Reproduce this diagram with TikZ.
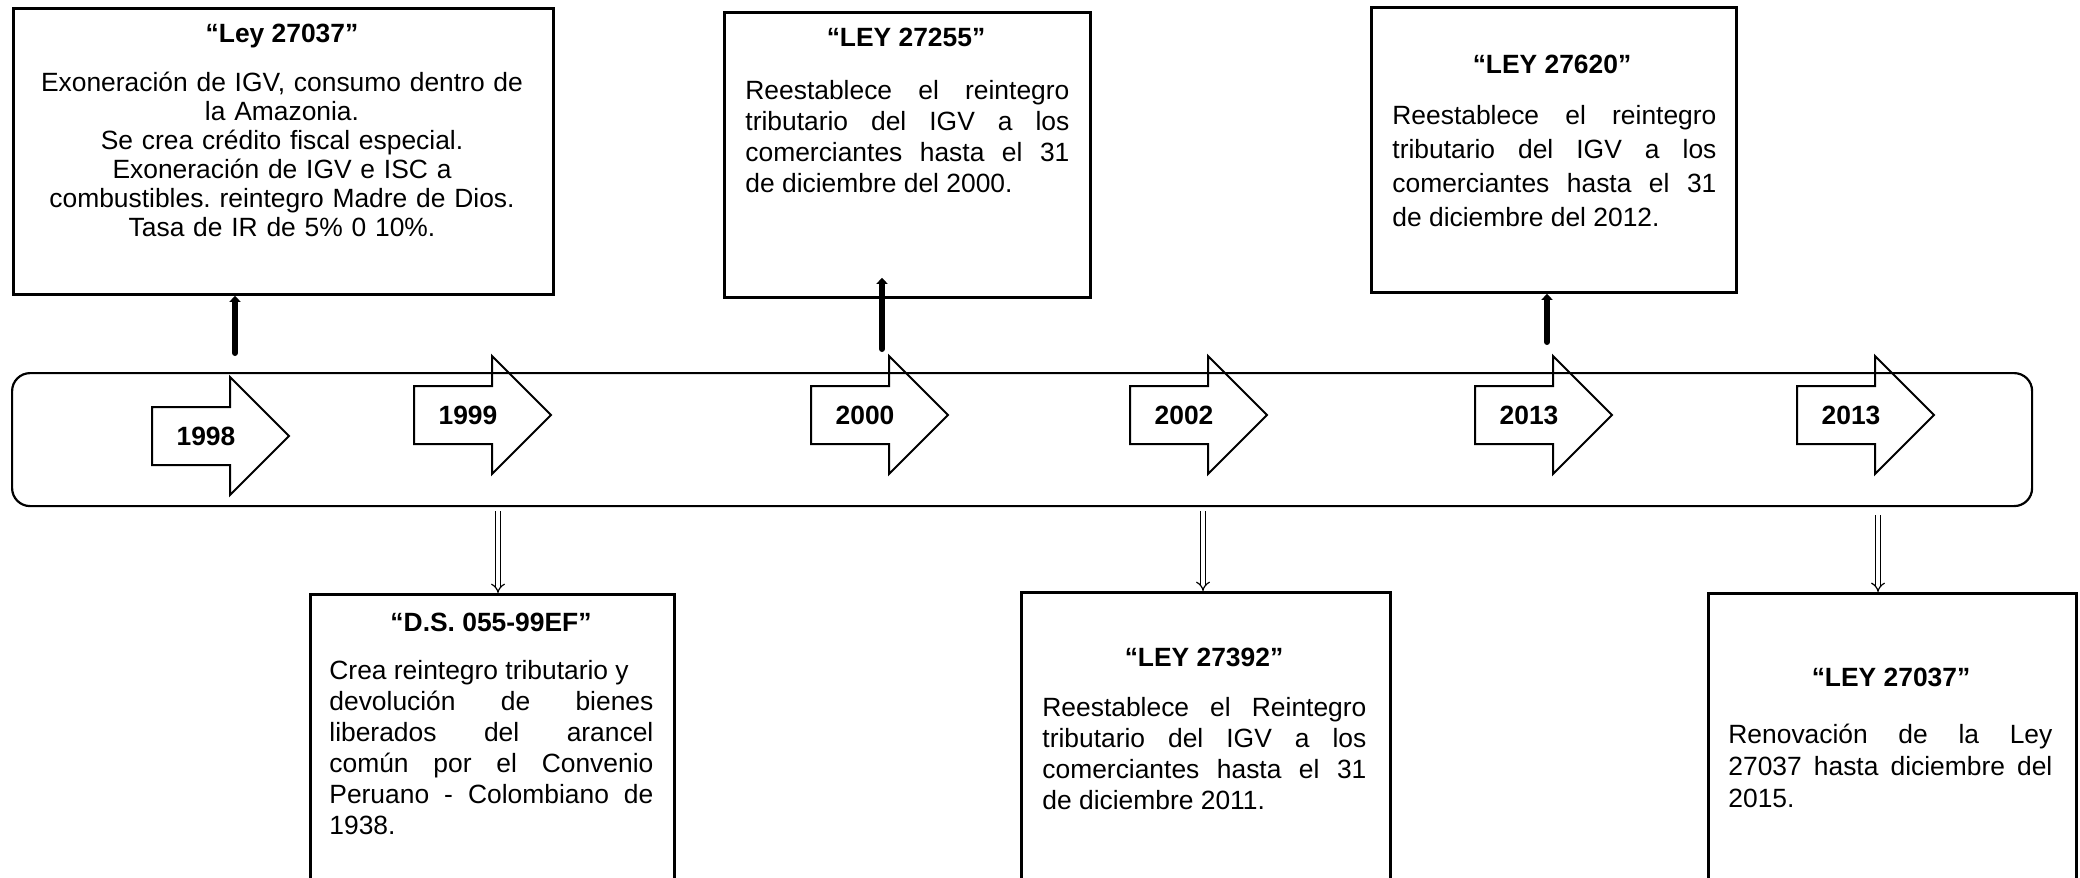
\documentclass[tikz,border=0pt]{standalone}
\usepackage{fontspec}
\setmainfont{Liberation Sans}
\usetikzlibrary{arrows.meta}
\tolerance=10000
\hyphenpenalty=10000
\frenchspacing

\begin{document}
\begin{tikzpicture}[
  x=0.5pt, y=-0.5pt,
  lawbox/.style={draw, line width=1.4pt, inner sep=0pt, anchor=north west},
  band/.style={draw, line width=1.1pt, rounded corners=9pt, inner sep=0pt,
               anchor=north west},
  ttl/.style={font=\fontsize{13.2}{15}\selectfont\bfseries, anchor=base,
              inner sep=0pt},
  body/.style={font=\fontsize{13.2}{#1}\selectfont\frenchspacing, anchor=base west,
               inner sep=0pt, text width=162pt, align=justify},
  body/.default=15.5pt,
  yarr/.style={draw, line width=1pt, line join=miter},
  yr/.style={font=\fontsize{13.2}{15}\selectfont\bfseries, inner sep=0pt},
  uparr/.style={line width=3pt, line cap=round,
                -{Triangle[length=3pt, width=5.5pt]}},
  downarr/.style={double, double distance=1.8pt, line width=0.6pt, -{Implies}},
]
\useasboundingbox (0,0) rectangle (2080,877);
\clip (0,0) rectangle (2080,877);
% ---------------- time line
\node[band, minimum width=1010pt, minimum height=66.5pt] (band) at (11,372) {};
\foreach \n/\x/\y/\yr in {a/152/436/1998, b/414/415/1999, c/811/415/2000,
                          d/1130/415/2002, e/1475/415/2013, f/1797/415/2013} {
  \draw[yarr] (\x,\y-29) -- ++(78,0) -- ++(0,-30) -- ++(59,59) -- ++(-59,59)
              -- ++(0,-30) -- ++(-78,0) -- cycle;
  \node[yr] (yr\n) at (\x+54,\y) {\yr};
}
% ---------------- boxes above
\node[lawbox, minimum width=270pt, minimum height=143pt] (top1) at (12,7) {};
\node[ttl] (top1t) at (282,43) {“Ley 27037”};
\node[body=14.5pt, anchor=base, align=center, text width=265pt] (top1b) at (282,92)
  {Exoneración de IGV, consumo dentro de\\ la Amazonia.\\ Se crea crédito fiscal especial.\\
   Exoneración de IGV e ISC a\\ combustibles. reintegro Madre de Dios.\\ Tasa de IR de 5\% 0 10\%.};
\node[lawbox, minimum width=183pt, minimum height=142.5pt] (top2) at (723,11) {};
\node[ttl] (top2t) at (906,47) {“LEY 27255”};
\node[body=15.35pt] (top2b) at (745,100)
  {Reestablece el reintegro\linebreak tributario del IGV a los\linebreak
   comerciantes hasta el 31\linebreak de diciembre del 2000.};
\node[lawbox, minimum width=182.5pt, minimum height=142.5pt] (top3) at (1370,6) {};
\node[ttl] (top3t) at (1552,74) {“LEY 27620”};
\node[body=17pt] (top3b) at (1392,125)
  {Reestablece el reintegro\linebreak tributario del IGV a los\linebreak
   comerciantes hasta el 31\linebreak de diciembre del 2012.};
% ---------------- boxes below
\node[lawbox, minimum width=182pt, minimum height=160pt] (bot1) at (309,593) {};
\node[ttl] (bot1t) at (491,631) {“D.S. 055-99EF”};
\node[body=15.5pt] (bot1b) at (329,679)
  {Crea reintegro tributario y\\ devolución de bienes\linebreak liberados del arancel\linebreak
   común por el Convenio\linebreak Peruano - Colombiano de\linebreak 1938.};
\node[lawbox, minimum width=184.5pt, minimum height=160pt] (bot2) at (1020,591) {};
\node[ttl] (bot2t) at (1204,666) {“LEY 27392”};
\node[body=15.65pt] (bot2b) at (1042,716)
  {Reestablece el Reintegro\linebreak tributario del IGV a los\linebreak
   comerciantes hasta el 31\linebreak de diciembre 2011.};
\node[lawbox, minimum width=184pt, minimum height=160pt] (bot3) at (1707,592) {};
\node[ttl] (bot3t) at (1891,686) {“LEY 27037”};
\node[body=16pt] (bot3b) at (1728,743)
  {Renovación de la Ley\linebreak 27037 hasta diciembre del\linebreak 2015.};
% ---------------- connectors
\coordinate (u1) at (235,353);
\coordinate (u2) at (882,349);
\coordinate (u3) at (1547,342);
\draw[uparr] (u1) -- (u1 |- top1.south);
\draw[uparr] (u2) -- ([yshift=10.5pt]u2 |- top2.south);
\draw[uparr] (u3) -- (u3 |- top3.south);
\coordinate (d1) at (498,511);
\coordinate (d2) at (1203,511);
\coordinate (d3) at (1878,515);
\draw[downarr] (d1) -- (d1 |- bot1.north);
\draw[downarr] (d2) -- (d2 |- bot2.north);
\draw[downarr] (d3) -- (d3 |- bot3.north);
\end{tikzpicture}
\end{document}
